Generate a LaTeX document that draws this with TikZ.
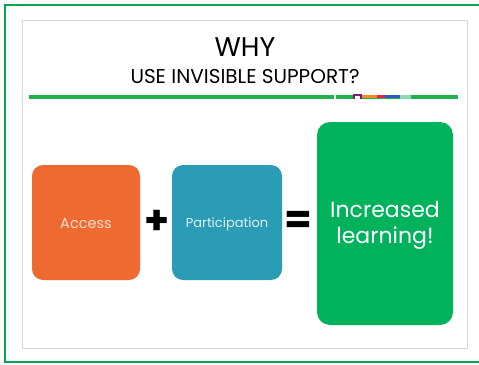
\documentclass[tikz,border=0pt]{standalone}
\usepackage{fontspec}
\setmainfont{Poppins}
\definecolor{frame}{HTML}{00A651}
\definecolor{slidegray}{HTML}{D8D8D8}
\definecolor{orangebox}{HTML}{EE6A30}
\definecolor{bluebox}{HTML}{2A9CB6}
\definecolor{greenbox}{HTML}{00B25C}
\definecolor{barg}{HTML}{22B14C}
\definecolor{segpurple}{HTML}{7A1F6E}
\definecolor{segorange}{HTML}{F38C1E}
\definecolor{segred}{HTML}{DC2846}
\definecolor{segblue}{HTML}{285ABE}
\definecolor{seglight}{HTML}{8FD9B0}
\definecolor{accesstext}{HTML}{FFE1CD}
\definecolor{parttext}{HTML}{E1F0FA}
\begin{document}
\begin{tikzpicture}[x=1pt,y=-1pt,
  lbl/.style={text=white, align=center, inner sep=0pt}]
\useasboundingbox (0,0) rectangle (479,364);
\fill[white] (0,0) rectangle (479,364);
\draw[frame, line width=2.5pt] (485,5) -- (5,5) -- (5,362) -- (485,362);
\draw[slidegray, line width=1pt] (22,20) rectangle (467,348);
\node[inner sep=0pt, font=\fontsize{27}{30}\selectfont] (why) at (245,47) {WHY};
\node[inner sep=0pt, font=\fontsize{20}{22}\selectfont] (sub) at (245,77) {USE INVISIBLE SUPPORT?};
\fill[barg] (29,95) rectangle (458,99);
\fill[white] (334,95) rectangle (336,99);
\fill[segpurple] (353,94) rectangle (362,99);
\fill[white] (355,96) rectangle (360,99);
\fill[segorange] (362,95) rectangle (377,98);
\fill[segred] (377,95) rectangle (385,98);
\fill[segblue] (385,95) rectangle (400,98);
\fill[seglight] (400,95) rectangle (411,99);
\fill[orangebox, rounded corners=11pt] (32,165) rectangle (140,280);
\fill[bluebox, rounded corners=11pt] (172,165) rectangle (282,280);
\fill[greenbox, rounded corners=13pt] (317,122) rectangle (453,325);
\node[lbl, text=accesstext, font=\fontsize{14.5}{16}\selectfont] (access) at (86,224) {Access};
\node[lbl, text=parttext, font=\fontsize{13}{15}\selectfont] (part) at (227,224) {Participation};
\node[lbl, font=\fontsize{22}{26}\selectfont] (inc) at (385,225) {Increased\\learning!};
\node[inner sep=0pt, font=\fontsize{40}{40}\selectfont\bfseries] (plus) at (157,222) {+};
\node[inner sep=0pt, font=\fontsize{40}{40}\selectfont\bfseries] (eq) at (298,222) {=};
\end{tikzpicture}
\end{document}
